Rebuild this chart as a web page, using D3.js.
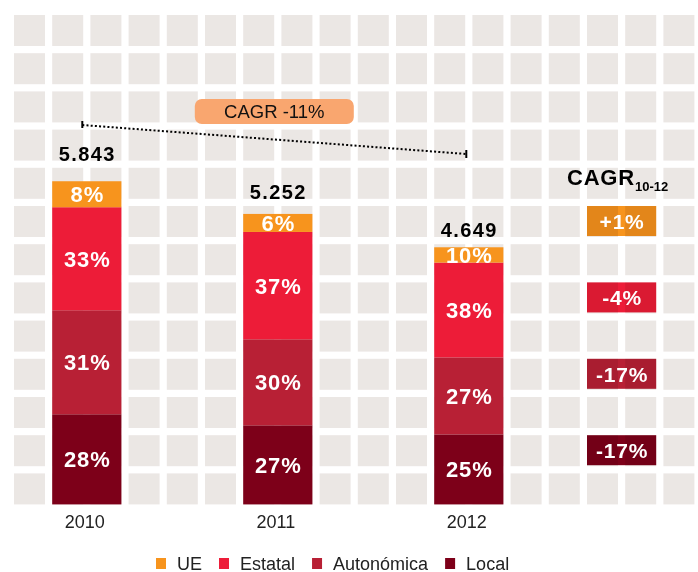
<!DOCTYPE html>
<meta charset="utf-8"/>
<title>Deuda por administración 2010-2012</title>
<style>
    body {
        margin: 0;
        background: #fff;
    }

    text {
        font-family: "Liberation Sans", Arial, Helvetica, sans-serif;
    }

    .cell {
        fill: #ebe7e4;
    }

    .pct {
        fill: #fff;
        font-size: 22px;
        font-weight: bold;
        letter-spacing: 0.8px;
    }

    .total {
        fill: #000;
        font-size: 20px;
        font-weight: bold;
        letter-spacing: 1.4px;
    }

    .year, .legend text {
        fill: #222;
        font-size: 18px;
    }

    .cagr-box {
        mix-blend-mode: multiply;
    }
</style>
<script src="https://cdn.jsdelivr.net/npm/d3@7"></script>
<svg id="chart" width="698" height="572" viewBox="0 0 698 572"></svg>
<script>
    "use strict";

    const years = ["2010", "2011", "2012"];
    const totals = [5843, 5252, 4649];
    const levels = ["UE", "Estatal", "Autonómica", "Local"];
    // amounts per level as drawn
    const valUE = [470, 326, 277];
    const valEstatal = [1863, 1941, 1713];
    const valAutonomica = [1881, 1556, 1393];
    const valLocal = [1629, 1429, 1266];
    // share labels as printed on the bars
    const pctUE = ["8%", "6%", "10%"];
    const pctEstatal = ["33%", "37%", "38%"];
    const pctAutonomica = ["31%", "30%", "27%"];
    const pctLocal = ["28%", "27%", "25%"];
    const cagrLabels = ["+1%", "-4%", "-17%", "-17%"];
    const cagrTotal = "CAGR -11%";

    const colors = ["#f7941d", "#ed1c38", "#b82035", "#7d0019"];

    // background grid: 18 x 13 squares
    const cols = 18;
    const rows = 13;
    const pitch = 38.2;
    const cellSize = 31;
    const col = d3.scaleLinear().domain([0, 1]).range([14, 14 + pitch]);
    const row = d3.scaleLinear().domain([0, 1]).range([15, 15 + pitch]);
    const base = row(rows - 1) + cellSize;

    const y = d3.scaleLinear().domain([0, 9120]).range([base, 0]);
    const color = d3.scaleOrdinal().domain(levels).range(colors);

    const svg = d3.select("#chart");

    svg.append("g").selectAll("rect")
        .data(d3.cross(d3.range(cols), d3.range(rows)))
        .join("rect")
        .attr("class", "cell")
        .attr("x", function (d) { return col(d[0]); })
        .attr("y", function (d) { return row(d[1]); })
        .attr("width", cellSize)
        .attr("height", cellSize);

    // stacked bars, each two grid columns wide, five columns apart
    const barWidth = col(1) - col(0) + cellSize;
    const barX = function (i) { return col(1 + 5 * i); };
    const barMid = function (i) { return barX(i) + barWidth / 2; };

    const values = [valUE, valEstatal, valAutonomica, valLocal];
    const labels = [pctUE, pctEstatal, pctAutonomica, pctLocal];
    const table = years.map(function (yr, i) {
        const o = {year: yr, index: i};
        levels.forEach(function (l, k) {
            o[l] = values[k][i];
        });
        return o;
    });

    // UE on top, Local at the bottom
    const series = d3.stack().keys(levels.slice().reverse())(table);

    const seg = svg.append("g").selectAll("g")
        .data(series)
        .join("g")
        .attr("fill", function (s) { return color(s.key); });

    seg.selectAll("rect")
        .data(function (s) { return s; })
        .join("rect")
        .attr("x", function (d) { return barX(d.data.index); })
        .attr("y", function (d) { return y(d[1]); })
        .attr("width", barWidth)
        .attr("height", function (d) { return y(d[0]) - y(d[1]); });

    series.forEach(function (s) {
        const k = levels.indexOf(s.key);
        svg.append("g").selectAll("text")
            .data(s)
            .join("text")
            .attr("class", "pct")
            .attr("text-anchor", "middle")
            .attr("x", function (d) { return barMid(d.data.index) + 0.5; })
            .attr("y", function (d) { return (y(d[0]) + y(d[1])) / 2; })
            .attr("dy", "0.36em")
            .text(function (d, i) { return labels[k][i]; });
    });

    // totals sit just above the grid row the bar top falls into
    svg.append("g").selectAll("text")
        .data(totals)
        .join("text")
        .attr("class", "total")
        .attr("text-anchor", "middle")
        .attr("x", function (d, i) { return barMid(i) + 0.5; })
        .attr("y", function (d) { return row(Math.floor(row.invert(y(d)))) - 7; })
        .text(function (d) { return d3.format(",")(d).replace(",", "."); });

    svg.append("g").selectAll("text")
        .data(years)
        .join("text")
        .attr("class", "year")
        .attr("text-anchor", "middle")
        .attr("x", function (d, i) { return barMid(i) - 2; })
        .attr("y", base + 24)
        .text(function (d) { return d; });

    // overall CAGR annotation between first and last bar
    const x0 = barMid(0) - 4.5;
    const x1 = barMid(years.length - 1) - 2.5;
    const ya = 125;
    const yb = 154;
    const note = svg.append("g").attr("stroke", "#000").attr("stroke-width", 2);
    note.append("line")
        .attr("x1", x0).attr("y1", ya).attr("x2", x1).attr("y2", yb)
        .attr("stroke-dasharray", "2,2.2");
    note.append("line")
        .attr("x1", x0).attr("y1", ya - 4).attr("x2", x0).attr("y2", ya + 3);
    note.append("line")
        .attr("x1", x1).attr("y1", yb - 4).attr("x2", x1).attr("y2", yb + 4);

    const pillW = 159;
    const pillH = 25;
    const pillCx = (x0 + x1) / 2;
    svg.append("rect")
        .attr("x", pillCx - pillW / 2)
        .attr("y", 99)
        .attr("width", pillW)
        .attr("height", pillH)
        .attr("rx", 7)
        .attr("fill", "#f9a66f");
    svg.append("text")
        .attr("x", pillCx)
        .attr("y", 99 + pillH / 2)
        .attr("dy", "0.36em")
        .attr("text-anchor", "middle")
        .style("font-size", "18.5px")
        .attr("fill", "#111")
        .text(cagrTotal);

    // CAGR per level, one box every other grid row
    const cagrCol = 15;
    const cagrMid = col(cagrCol) + barWidth / 2;
    const head = svg.append("text")
        .attr("x", cagrMid - 4)
        .attr("y", 185)
        .attr("text-anchor", "middle")
        .style("font-weight", "bold");
    head.append("tspan")
        .style("font-size", "22px")
        .style("letter-spacing", "0.8px")
        .text("CAGR");
    head.append("tspan")
        .attr("dy", 6)
        .style("font-size", "13px")
        .text("10-12");

    const boxes = svg.append("g").selectAll("g")
        .data(cagrLabels)
        .join("g");

    boxes.append("rect")
        .attr("class", "cagr-box")
        .attr("x", col(cagrCol))
        .attr("y", function (d, i) { return row(5 + 2 * i); })
        .attr("width", barWidth)
        .attr("height", cellSize - 1)
        .attr("fill", function (d, i) { return colors[i]; });

    boxes.append("text")
        .attr("class", "pct")
        .attr("text-anchor", "middle")
        .attr("x", cagrMid + 0.5)
        .attr("y", function (d, i) { return row(5 + 2 * i) + cellSize / 2; })
        .attr("dy", "0.36em")
        .style("font-size", "21px")
        .text(function (d) { return d; });

    // legend
    const legend = svg.append("g").attr("class", "legend");
    var lx = 156;
    levels.forEach(function (l, k) {
        legend.append("rect")
            .attr("x", lx)
            .attr("y", 558)
            .attr("width", 10)
            .attr("height", 11)
            .attr("fill", colors[k]);
        const t = legend.append("text")
            .attr("x", lx + 21)
            .attr("y", 569.5)
            .text(l);
        lx += 21 + t.node().getComputedTextLength() + 17;
    });
</script>
